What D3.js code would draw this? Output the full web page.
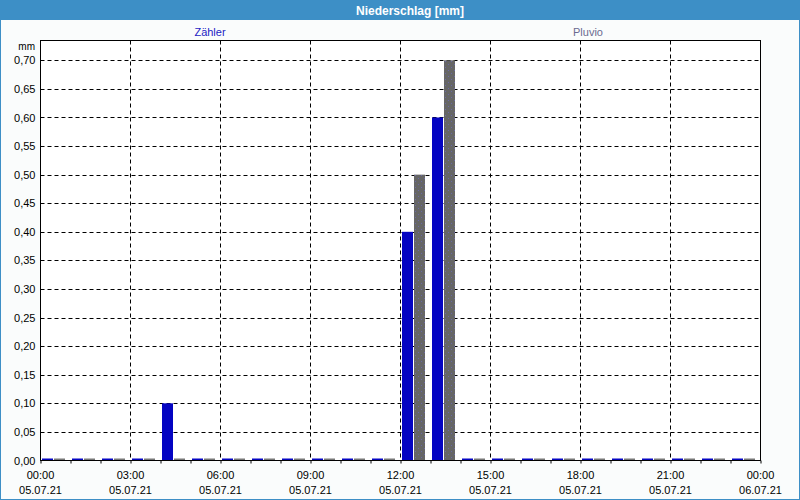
<!DOCTYPE html>
<html><head><meta charset="utf-8">
<script src="https://cdn.jsdelivr.net/npm/d3@7/dist/d3.min.js"></script>
<style>
html,body{margin:0;padding:0;background:#fafcfc;}
svg{display:block;font-family:"Liberation Sans",Arial,sans-serif;}
</style></head>
<body>
<svg id="chart" width="800" height="500"></svg>
<script>
const title = "Niederschlag [mm]";
const seriesNames = ["Zähler", "Pluvio"];
const hours = d3.range(0, 24);
const zaehler = [0,0,0,0,0.10,0,0,0,0,0,0,0,0.40,0.60,0,0,0,0,0,0,0,0,0,0];
const pluvio  = [0,0,0,0,0,0,0,0,0,0,0,0,0.50,0.70,0,0,0,0,0,0,0,0,0,0];
const yTicks = d3.range(0, 0.7001, 0.05);
const xTickHours = [0,3,6,9,12,15,18,21,24];
const xDates = ["05.07.21","05.07.21","05.07.21","05.07.21","05.07.21","05.07.21","05.07.21","05.07.21","06.07.21"];

const svg = d3.select("#chart");
const W = 800, H = 500;
const L = 40.5, R = 760.5, T = 40.5, B = 460.5;

// window frame
svg.append("rect").attr("x",0).attr("y",0).attr("width",W).attr("height",H).attr("fill","#fafcfc");
svg.append("rect").attr("x",0).attr("y",0).attr("width",W).attr("height",20).attr("fill","#3d8fc6");
svg.append("rect").attr("x",0.5).attr("y",0.5).attr("width",W-1).attr("height",H-1).attr("fill","none").attr("stroke","#3d8fc6").attr("stroke-width",1);
svg.append("text").attr("x",410).attr("y",14.5).attr("text-anchor","middle")
  .attr("fill","#fff").attr("font-weight","bold").attr("font-size","12px").text(title);

// legend labels
svg.append("text").attr("x",210).attr("y",36).attr("text-anchor","middle").attr("font-size","11px").attr("fill","#1c1cc4").text(seriesNames[0]);
svg.append("text").attr("x",588).attr("y",36).attr("text-anchor","middle").attr("font-size","11px").attr("fill","#6a6a90").text(seriesNames[1]);

const x = d3.scaleLinear().domain([0,24]).range([L,R]);
const y = d3.scaleLinear().domain([0,0.7]).range([B,T+19.8]);

// plot background
svg.append("rect").attr("x",L).attr("y",T).attr("width",R-L).attr("height",B-T).attr("fill","#ffffff");

// pattern for Pluvio
const defs = svg.append("defs");
const pat = defs.append("pattern").attr("id","dots").attr("patternUnits","userSpaceOnUse")
  .attr("width",6).attr("height",6);
pat.append("rect").attr("width",6).attr("height",6).attr("fill","#666666");
pat.append("rect").attr("x",1).attr("y",1).attr("width",1).attr("height",1).attr("fill","#6a6aa8");
pat.append("rect").attr("x",4).attr("y",4).attr("width",1).attr("height",1).attr("fill","#6a6aa8");

// grid
const grid = svg.append("g");
grid.selectAll("line.h").data(yTicks.slice(1)).join("line")
  .attr("x1",L).attr("x2",R).attr("y1",d=>Math.round(y(d))+0.5).attr("y2",d=>Math.round(y(d))+0.5)
  .attr("stroke","#000").attr("stroke-dasharray","4,3");
grid.selectAll("line.v").data(xTickHours.slice(1,-1)).join("line")
  .attr("x1",d=>x(d)).attr("x2",d=>x(d)).attr("y1",T).attr("y2",B)
  .attr("stroke","#000").attr("stroke-dasharray","4,3");

// bars
const bw = 11;
svg.append("g").selectAll("rect").data(hours).join("rect")
  .attr("x",h=>x(h)+1.5).attr("width",bw)
  .attr("y",h=>Math.min(y(zaehler[h]), B-2)).attr("height",h=>Math.max(B-y(zaehler[h]),2))
  .attr("fill","#0404c2");
svg.append("g").selectAll("rect").data(hours).join("rect")
  .attr("x",h=>x(h)+13.5).attr("width",bw)
  .attr("y",h=>Math.min(y(pluvio[h]), B-2)).attr("height",h=>Math.max(B-y(pluvio[h]),2))
  .attr("fill",h=>pluvio[h]>0?"url(#dots)":"#777777");

// frame
svg.append("rect").attr("x",L).attr("y",T).attr("width",R-L).attr("height",B-T)
  .attr("fill","none").attr("stroke","#000").attr("stroke-width",1);

// y axis
const yAxis = d3.axisLeft(y).tickValues(yTicks).tickSize(0).tickPadding(5)
  .tickFormat(d=>d3.format(".2f")(d).replace(".",","));
const ga = svg.append("g").attr("transform",`translate(${L},0)`).call(yAxis);
ga.select(".domain").remove();
ga.selectAll("text").attr("font-size","11px").attr("fill","#000").attr("font-family","Liberation Sans, Arial, sans-serif");
svg.append("text").attr("x",35).attr("y",50).attr("text-anchor","end").attr("font-size","10px").attr("fill","#000").text("mm");

// x axis
const xAxis = d3.axisBottom(x).tickValues(d3.range(0,25)).tickSize(3).tickFormat("");
const gx = svg.append("g").attr("transform",`translate(0,${B})`).call(xAxis);
gx.select(".domain").remove();
gx.selectAll("line").attr("stroke","#000");
const lab = svg.append("g");
lab.selectAll("text.t").data(xTickHours).join("text")
  .attr("x",d=>x(d)).attr("y",479).attr("text-anchor","middle").attr("font-size","11px").attr("fill","#000")
  .text(d=>String(d%24).padStart(2,"0")+":00");
lab.selectAll("text.d").data(xTickHours).join("text")
  .attr("x",d=>x(d)).attr("y",494).attr("text-anchor","middle").attr("font-size","11px").attr("fill","#000")
  .text((d,i)=>xDates[i]);
</script>
</body></html>
